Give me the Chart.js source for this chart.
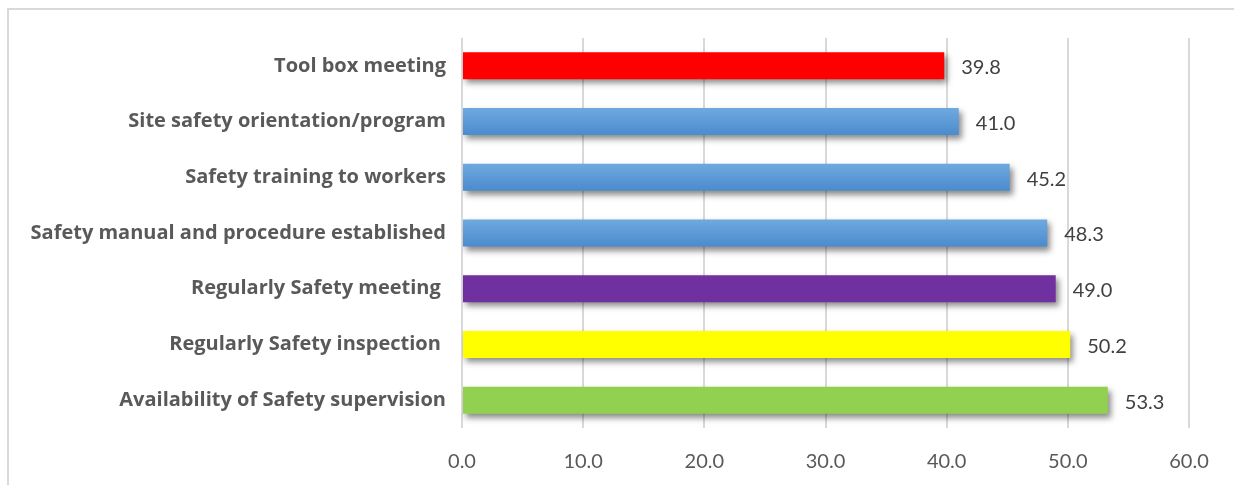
<!DOCTYPE html>
<html>
<head>
<meta charset="utf-8">
<script src="https://cdn.jsdelivr.net/npm/chart.js@4.4.1/dist/chart.umd.min.js"></script>
<style>
    html, body { margin: 0; padding: 0; background: #fff; overflow: hidden; }
    #wrap { position: relative; width: 1234px; height: 485px; }
    #frame { position: absolute; left: 7px; top: 8px; width: 1240px; height: 490px;
             border-top: 2px solid #d9d9d9; border-left: 2px solid #d9d9d9; }
    canvas { position: absolute; left: 0; top: 0; }
</style>
</head>
<body>
<div id="wrap">
    <div id="frame"></div>
    <canvas id="barChart" width="1234" height="485"></canvas>
</div>
<script>
// chart data
const categories = [
    'Tool box meeting',
    'Site safety orientation/program',
    'Safety training to workers',
    'Safety manual and procedure established',
    'Regularly Safety meeting ',
    'Regularly Safety inspection ',
    'Availability of Safety supervision'
];
const scores = [39.8, 41.0, 45.2, 48.3, 49.0, 50.2, 53.3];
const barColors = ['#ff0000', 'blue', 'blue', 'blue', '#7030a0', '#ffff00', '#92d050'];
const tickValues = [0, 10, 20, 30, 40, 50, 60];

// blue bars get a soft top-to-bottom gradient like the office theme
function barFill(ctx) {
    const c = barColors[ctx.dataIndex];
    if (c !== 'blue') return c;
    const chart = ctx.chart;
    const y = chart.scales.y;
    if (!y || !chart.chartArea) return '#5b9bd5';
    const mid = y.getPixelForValue(ctx.dataIndex);
    const half = 14;
    const g = chart.ctx.createLinearGradient(0, mid - half, 0, mid + half);
    g.addColorStop(0, '#70a9df');
    g.addColorStop(1, '#4a8bcd');
    return g;
}

const shadowPlugin = {
    id: 'barShadow',
    beforeDatasetsDraw(chart) {
        const ctx = chart.ctx;
        ctx.save();
        ctx.shadowColor = 'rgba(0,0,0,0.45)';
        ctx.shadowBlur = 6;
        ctx.shadowOffsetX = 3;
        ctx.shadowOffsetY = 4;
    },
    afterDatasetsDraw(chart) {
        chart.ctx.restore();
        // value labels at the bar ends
        const ctx = chart.ctx;
        const meta = chart.getDatasetMeta(0);
        ctx.save();
        ctx.font = '20px Lato';
        ctx.fillStyle = '#404040';
        ctx.textAlign = 'left';
        ctx.textBaseline = 'middle';
        meta.data.forEach((bar, i) => {
            ctx.fillText(scores[i].toFixed(1), bar.x + 17, bar.y + 2);
        });
        ctx.restore();
    }
};

new Chart(document.getElementById('barChart'), {
    type: 'bar',
    plugins: [shadowPlugin],
    data: {
        labels: categories,
        datasets: [{
            data: scores,
            backgroundColor: barFill,
            borderWidth: 0,
            categoryPercentage: 1,
            barPercentage: 0.485
        }]
    },
    options: {
        indexAxis: 'y',
        responsive: false,
        animation: false,
        events: [],
        layout: { padding: { top: 38, right: 45, bottom: 0, left: 0 } },
        plugins: { legend: { display: false }, tooltip: { enabled: false } },
        scales: {
            x: {
                min: 0,
                max: 60,
                afterBuildTicks: (scale) => { scale.ticks = tickValues.map(v => ({ value: v })); },
                afterFit: (scale) => { scale.height = 57; },
                grid: { color: '#d9d9d9', lineWidth: 2, drawTicks: false },
                border: { display: false },
                ticks: {
                    padding: 22,
                    color: '#595959',
                    font: { family: 'Lato', size: 20 },
                    callback: (v) => Number(v).toFixed(1)
                }
            },
            y: {
                afterFit: (scale) => { scale.width = 462; },
                grid: { display: false, drawTicks: false },
                border: { display: false },
                ticks: {
                    padding: 16,
                    color: '#595959',
                    font: { family: 'Open Sans', size: 20, weight: 'bold' }
                }
            }
        }
    }
});
</script>
</body>
</html>
